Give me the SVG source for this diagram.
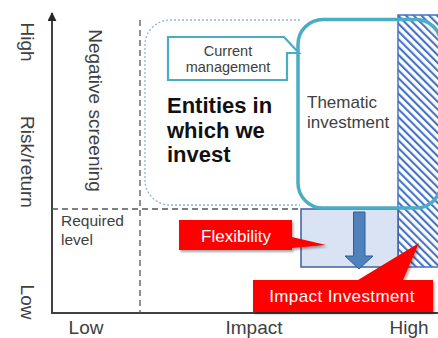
<svg xmlns="http://www.w3.org/2000/svg" width="438" height="338" viewBox="0 0 438 338">
<defs>
<style>
.ax{stroke:#404040;stroke-width:2;fill:none}
.dash{stroke:#555;stroke-width:1.3;stroke-dasharray:6,4;fill:none}
.lbl{font-family:"Liberation Sans",Arial,sans-serif;font-size:19px;fill:#404040}
.sm{font-family:"Liberation Sans",Arial,sans-serif;fill:#404040}
.red{fill:#ff0000;filter:url(#sh)}
.wt{font-family:"Liberation Sans",Arial,sans-serif;font-size:17px;fill:#ffffff}
</style>
<marker id="ah" viewBox="0 0 10 10" refX="9" refY="5" markerWidth="9" markerHeight="9" markerUnits="userSpaceOnUse" orient="auto">
<path d="M0,0 L10,5 L0,10 Z" fill="#262626"/>
</marker>
<pattern id="hatch" patternUnits="userSpaceOnUse" width="5.5" height="5.5" patternTransform="rotate(-45)">
<rect width="5.5" height="5.5" fill="#ffffff"/>
<rect width="2.1" height="5.5" fill="#4472c4"/>
</pattern>
<filter id="sh" x="-10%" y="-20%" width="130%" height="150%">
<feDropShadow dx="1.5" dy="2" stdDeviation="1.2" flood-color="#000" flood-opacity="0.35"/>
</filter>
</defs>

<g id="axes">
<line class="ax" x1="52" y1="313" x2="52" y2="13" marker-end="url(#ah)"/>
<line class="ax" x1="51" y1="313" x2="438" y2="313"/>
<text class="lbl" transform="translate(21,42) rotate(90)" text-anchor="middle">High</text>
<text class="lbl" transform="translate(21,162) rotate(90)" text-anchor="middle">Risk/return</text>
<text class="lbl" transform="translate(21,302) rotate(90)" text-anchor="middle">Low</text>
<text class="lbl" x="86" y="333.5" text-anchor="middle">Low</text>
<text class="lbl" x="254" y="333.5" text-anchor="middle">Impact</text>
<text class="lbl" x="409" y="333.5" text-anchor="middle">High</text>
</g>

<g id="guides">
<line class="dash" x1="140" y1="20" x2="140" y2="313"/>
<line class="dash" x1="52" y1="209" x2="301" y2="209"/>
<text class="lbl" transform="translate(89,110.5) rotate(90)" text-anchor="middle">Negative screening</text>
<text class="sm" font-size="15.5" x="61" y="226">Required</text>
<text class="sm" font-size="15.5" x="61" y="245">level</text>
</g>

<g id="entities">
<path d="M300,20 H170 A25,25 0 0 0 145,45 V180 A25,25 0 0 0 170,205 H300" fill="none" stroke="#8db3e2" stroke-width="1.3" stroke-dasharray="2,2"/>
<text font-family="'Liberation Sans',Arial,sans-serif" font-size="22" font-weight="bold" fill="#111">
<tspan x="167" y="113">Entities in</tspan>
<tspan x="167" y="137.5">which we</tspan>
<tspan x="167" y="162">invest</tspan>
</text>
</g>

<g id="impact-zone">
<rect x="398" y="15" width="48" height="252" fill="url(#hatch)" stroke="#4472c4" stroke-width="1.5"/>
</g>

<g id="flex-zone">
<rect x="301" y="209" width="97" height="58" fill="#dae3f3" stroke="#3f5f9f" stroke-width="1.5"/>
</g>

<g id="thematic">
<rect x="298" y="19.5" width="143" height="188.5" rx="25" ry="25" fill="none" stroke="#4bacc6" stroke-width="3.5"/>
<text class="sm" font-size="17"><tspan x="307" y="108">Thematic</tspan><tspan x="307" y="128">investment</tspan></text>
</g>

<g id="connectors">
<path d="M353.5,212 H365 V256 H373 L359,269 L345,256 H353.5 Z" fill="#4f81bd" stroke="#2f5d96" stroke-width="1"/>
</g>

<g id="current-management">
<path d="M168,37 H284 L299,53 L287,53 V80 H168 Z" fill="#ffffff" stroke="#4bacc6" stroke-width="2.2" stroke-linejoin="miter"/>
<text class="sm" font-size="14.5" text-anchor="middle"><tspan x="228" y="56">Current</tspan><tspan x="228" y="72">management</tspan></text>
</g>

<g id="flexibility">
<path class="red" d="M179,220 H292 V237 L326,245 L292,248 V250 H179 Z"/>
<text class="wt" x="236" y="242" text-anchor="middle">Flexibility</text>
</g>

<g id="impact-investment">
<path class="red" d="M253,280 H358 L419,243 L403,280 H433 V312 H253 Z"/>
<text class="wt" x="342" y="302" text-anchor="middle" letter-spacing="0.4">Impact Investment</text>
</g>
</svg>
